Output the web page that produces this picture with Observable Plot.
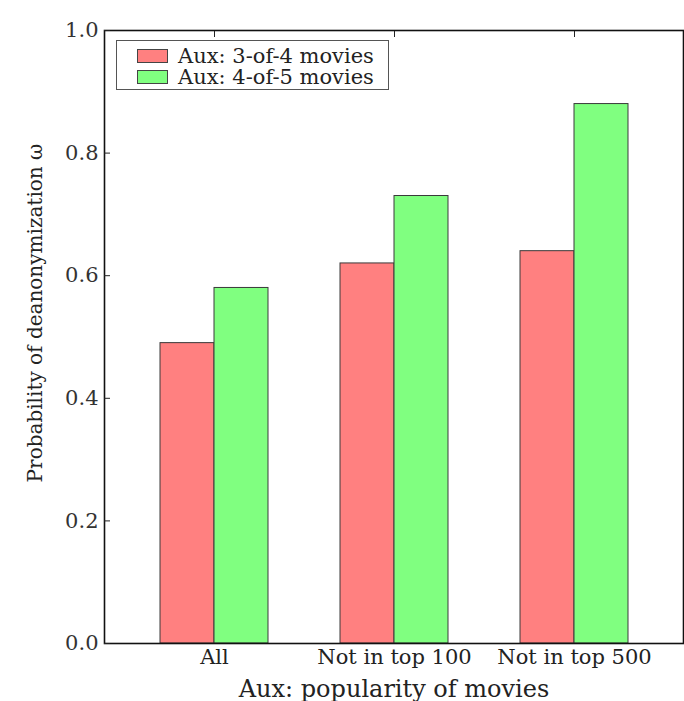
<!DOCTYPE html>
<html>
<head>
<meta charset="utf-8">
<script src="https://cdn.jsdelivr.net/npm/d3@7"></script>
<script src="https://cdn.jsdelivr.net/npm/@observablehq/plot@0.6"></script>
<style>
  html, body { margin: 0; padding: 0; background: #fff; }
  #wrap { position: relative; width: 684px; height: 701px; }
  #legend {
    position: absolute; left: 116px; top: 40px; width: 271px; height: 48px;
    border: 1px solid #555; background: #fff;
    font-family: "DejaVu Serif", serif; font-size: 21px; color: #222;
  }
  .row { position: absolute; left: 20px; height: 21px; display: flex; align-items: center; white-space: nowrap; }
  .sw { width: 29px; height: 12px; border: 1px solid #444; margin-right: 10px; }
</style>
</head>
<body>
<div id="wrap"></div>
<script>
const categories = ["All", "Not in top 100", "Not in top 500"];
const seriesNames = ["Aux: 3-of-4 movies", "Aux: 4-of-5 movies"];
const values34 = [0.49, 0.62, 0.64];
const values45 = [0.58, 0.73, 0.88];
const yTicks = [0, 0.2, 0.4, 0.6, 0.8, 1.0];
const colors = ["#ff8080", "#80ff80"];
const xLabel = "Aux: popularity of movies";
const yLabel = "Probability of deanonymization \u03c9";

const rows34 = categories.map((c, i) => ({category: c, value: values34[i]}));
const rows45 = categories.map((c, i) => ({category: c, value: values45[i]}));

function make(half) {
  return Plot.plot({
    width: 684, height: 701,
    marginLeft: 104, marginRight: 1, marginTop: 30, marginBottom: 58,
    style: {fontFamily: "DejaVu Serif", fontSize: "21px", color: "#222", background: "white", overflow: "visible"},
    x: {domain: categories, paddingInner: 0.4, paddingOuter: 0.3, label: null},
    y: {domain: [0, 1], label: null},
    marks: [
      Plot.barY(rows34, {x: "category", y: "value", fill: colors[0], stroke: "#3a3a3a", strokeWidth: 1, insetRight: half}),
      Plot.barY(rows45, {x: "category", y: "value", fill: colors[1], stroke: "#3a3a3a", strokeWidth: 1, insetLeft: half}),
      Plot.frame({stroke: "#111", strokeWidth: 1.6}),
      Plot.axisY({ticks: yTicks, tickFormat: ".1f", tickSize: 0, tickPadding: 6, fill: "#333"}),
      Plot.axisY({ticks: yTicks, tickSize: -6, text: null, stroke: "#222"}),
      Plot.axisX({anchor: "top", tickSize: -6, text: null, stroke: "#222"}),
      Plot.axisX({anchor: "bottom", tickSize: 0, tickPadding: 6, fill: "#222"}),
      Plot.text([xLabel], {frameAnchor: "bottom", dy: 46, lineAnchor: "middle", textAnchor: "middle", fontSize: 24, fill: "#222"}),
      Plot.text([yLabel], {frameAnchor: "left", rotate: -90, dx: -69, dy: -24, lineAnchor: "middle", textAnchor: "middle", fontSize: 20, fill: "#222"})
    ]
  });
}

const probe = make(0);
const half = probe.scale("x").bandwidth / 2;
const chart = make(half);
const wrap = document.getElementById("wrap");
wrap.appendChild(chart);

const legend = document.createElement("div");
legend.id = "legend";
seriesNames.forEach((name, i) => {
  const row = document.createElement("div");
  row.className = "row";
  row.style.top = (4 + i * 21) + "px";
  const sw = document.createElement("div");
  sw.className = "sw";
  sw.style.background = colors[i];
  const t = document.createElement("span");
  t.textContent = name;
  row.appendChild(sw);
  row.appendChild(t);
  legend.appendChild(row);
});
wrap.appendChild(legend);
</script>
</body>
</html>
